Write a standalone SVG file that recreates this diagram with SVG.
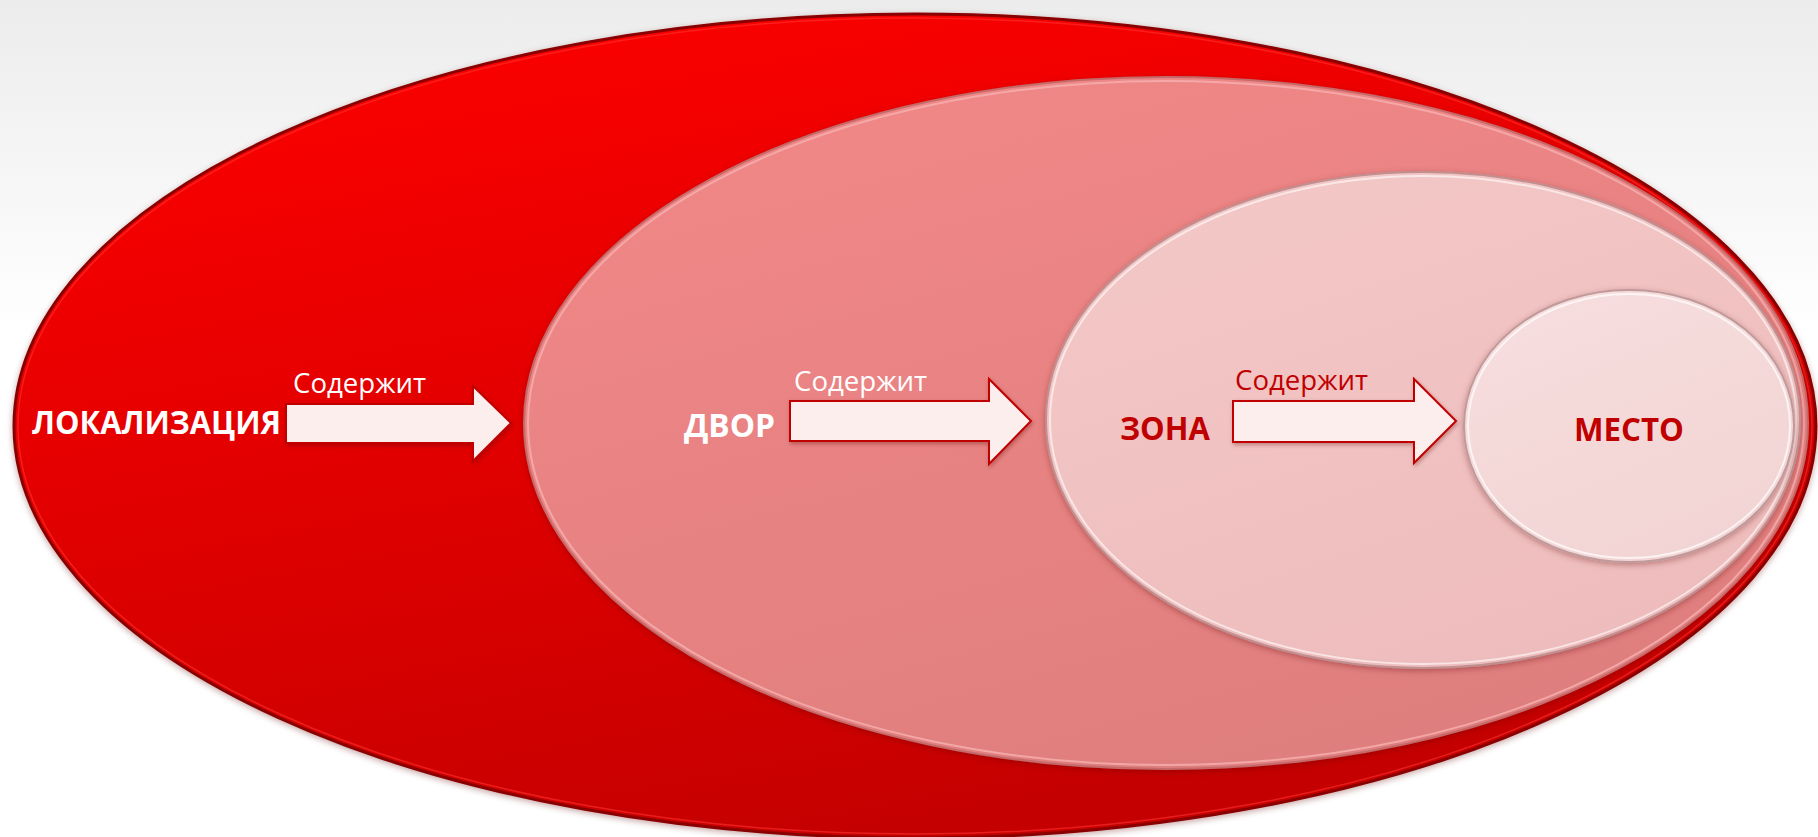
<svg xmlns="http://www.w3.org/2000/svg" width="1818" height="837" viewBox="0 0 1818 837">
  <defs>
    <linearGradient id="bg" x1="0" y1="0" x2="0" y2="1">
      <stop offset="0" stop-color="#ececec"/>
      <stop offset="0.4" stop-color="#ffffff"/>
      <stop offset="1" stop-color="#ffffff"/>
    </linearGradient>
    <linearGradient id="gOuter" x1="0.1" y1="0" x2="0.5" y2="1">
      <stop offset="0" stop-color="#ff0000"/>
      <stop offset="1" stop-color="#c40000"/>
    </linearGradient>
    <linearGradient id="gDvor" x1="0.1" y1="0" x2="0.6" y2="1">
      <stop offset="0" stop-color="#f28888"/>
      <stop offset="1" stop-color="#df7e7e"/>
    </linearGradient>
    <linearGradient id="gZona" x1="0.1" y1="0" x2="0.6" y2="1">
      <stop offset="0" stop-color="#f4c8c8"/>
      <stop offset="1" stop-color="#eebcbc"/>
    </linearGradient>
    <linearGradient id="gMesto" x1="0.1" y1="0" x2="0.6" y2="1">
      <stop offset="0" stop-color="#f7dede"/>
      <stop offset="1" stop-color="#f2d4d4"/>
    </linearGradient>
    <filter id="sh" x="-5%" y="-5%" width="110%" height="110%">
      <feDropShadow dx="0" dy="2" stdDeviation="3" flood-color="#600000" flood-opacity="0.35"/>
    </filter>
    <filter id="ash" x="-10%" y="-20%" width="120%" height="140%">
      <feDropShadow dx="1" dy="2" stdDeviation="2" flood-color="#600000" flood-opacity="0.35"/>
    </filter>
  </defs>
  <style>
    .rim { fill: none; }
    .arrow { fill: #fdeeee; stroke: #c00000; stroke-width: 2; stroke-linejoin: miter; filter: url(#ash); }
    .lbl { font-family: "Open Sans", "Noto Sans", "Liberation Sans", sans-serif; font-size: 28px; }
    .name { font-family: "Open Sans", "Noto Sans", "Liberation Sans", sans-serif; font-size: 33px; font-weight: bold; }
    .w { fill: #ffffff; }
    .r { fill: #c00000; }
  </style>

  <rect x="0" y="0" width="1818" height="837" fill="url(#bg)"/>

  <g id="node-lokalizaciya">
    <ellipse cx="915" cy="426" rx="901" ry="412" fill="url(#gOuter)" stroke="#8a0000" stroke-width="3" filter="url(#sh)"/>
    <ellipse class="rim" cx="915" cy="426" rx="897" ry="408" stroke="#ff3030" stroke-width="1.5" stroke-opacity="0.6"/>
    <text class="name w" x="32" y="434" textLength="249" lengthAdjust="spacingAndGlyphs">ЛОКАЛИЗАЦИЯ</text>
  </g>

  <g id="node-dvor">
    <ellipse cx="1166" cy="423" rx="642" ry="346" fill="url(#gDvor)" stroke="#c46a6a" stroke-width="2" filter="url(#sh)"/>
    <ellipse class="rim" cx="1166" cy="423" rx="638" ry="342" stroke="#f6b0b0" stroke-width="2" stroke-opacity="0.8"/>
    <text class="name w" x="684" y="437" textLength="91" lengthAdjust="spacingAndGlyphs">ДВОР</text>
  </g>

  <g id="node-zona">
    <ellipse cx="1423" cy="420" rx="377" ry="248" fill="url(#gZona)" stroke="#c09090" stroke-width="2" filter="url(#sh)"/>
    <ellipse class="rim" cx="1423" cy="420" rx="373" ry="244" stroke="#ffffff" stroke-width="2" stroke-opacity="0.6"/>
    <text class="name r" x="1120" y="440" textLength="90" lengthAdjust="spacingAndGlyphs">ЗОНА</text>
  </g>

  <g id="node-mesto">
    <ellipse cx="1629" cy="426" rx="165" ry="136" fill="url(#gMesto)" stroke="#c09a9a" stroke-width="2" filter="url(#sh)"/>
    <ellipse class="rim" cx="1629" cy="426" rx="161" ry="132" stroke="#ffffff" stroke-width="2" stroke-opacity="0.7"/>
    <text class="name r" x="1574" y="441" textLength="110" lengthAdjust="spacingAndGlyphs">МЕСТО</text>
  </g>

  <g id="connectors">
    <polygon class="arrow" points="286,404 473,404 473,386 511,423 473,461 473,443 286,443"/>
    <text class="lbl w" x="293" y="393" textLength="133" lengthAdjust="spacingAndGlyphs">Содержит</text>

    <polygon class="arrow" points="790,401 989,401 989,379 1031,421 989,464 989,441 790,441"/>
    <text class="lbl w" x="794" y="391" textLength="133" lengthAdjust="spacingAndGlyphs">Содержит</text>

    <polygon class="arrow" points="1233,401 1414,401 1414,379 1456,421 1414,463 1414,442 1233,442"/>
    <text class="lbl r" x="1235" y="390" textLength="133" lengthAdjust="spacingAndGlyphs">Содержит</text>
  </g>
</svg>
